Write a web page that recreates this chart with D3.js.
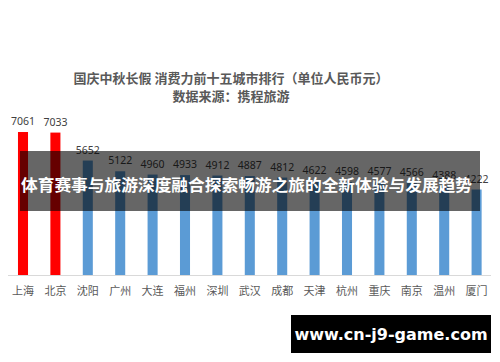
<!DOCTYPE html>
<html><head><meta charset="utf-8">
<script src="https://cdn.jsdelivr.net/npm/d3@7"></script>
<style>html,body{margin:0;padding:0;background:#fff;}svg{display:block;}</style>
</head><body>
<script>
const categories = ["上海","北京","沈阳","广州","大连","福州","深圳","武汉","成都","天津","杭州","重庆","南京","温州","厦门"];
const values = [7061,7033,5652,5122,4960,4933,4912,4887,4812,4622,4598,4577,4566,4388,4222];
const highlighted = ["上海","北京"];
const titleLines = ["国庆中秋长假 消费力前十五城市排行（单位人民币元）","数据来源：携程旅游"];
const overlayText = "体育赛事与旅游深度融合探索畅游之旅的全新体验与发展趋势";
const watermark = "www.cn-j9-game.com";

const W = 500, H = 362;
const svg = d3.select("body").append("svg").attr("width", W).attr("height", H);
svg.append("rect").attr("width", W).attr("height", H).attr("fill", "#fff");

const x = d3.scaleBand().domain(categories).range([6.8, 492.8]).paddingInner(0.69).paddingOuter(0.345);
const y = d3.scaleLinear().domain([0, 8000]).range([275, 113]);

// title
svg.selectAll("text.title").data(titleLines).join("text")
  .attr("class","title")
  .attr("x", 231).attr("y", (d,i)=> 83 + i*18)
  .attr("text-anchor","middle")
  .attr("font-family","'Noto Sans CJK SC', sans-serif")
  .attr("font-size", 13).attr("font-weight", 600)
  .attr("fill","#595959").text(d=>d);

// baseline
svg.append("line").attr("x1", 8).attr("x2", 491).attr("y1", y(0)+0.5).attr("y2", y(0)+0.5)
  .attr("stroke","#d9d9d9").attr("stroke-width",1);

// bars
svg.selectAll("rect.bar").data(categories).join("rect")
  .attr("class","bar")
  .attr("x", d=>x(d)).attr("width", x.bandwidth())
  .attr("y", (d,i)=>y(values[i])).attr("height", (d,i)=>y(0)-y(values[i]))
  .attr("fill", d=> highlighted.includes(d) ? "#ff0000" : "#5b9bd5");

// value labels
svg.selectAll("text.val").data(categories).join("text")
  .attr("class","val")
  .attr("x", d=>x(d)+x.bandwidth()/2).attr("y", (d,i)=>y(values[i]) - 7)
  .attr("text-anchor","middle")
  .attr("font-family","'Noto Sans', sans-serif").attr("font-size", 10.5)
  .attr("fill","#404040").text((d,i)=>values[i]);

// x axis labels
const xAxis = d3.axisBottom(x).tickSize(0).tickPadding(0);
const gx = svg.append("g").attr("transform", `translate(0,${y(0)})`).call(xAxis);
gx.select(".domain").remove();
gx.selectAll("text")
  .attr("y", 20).attr("dy", 0)
  .attr("font-family","'Noto Sans CJK SC', sans-serif").attr("font-size", 11)
  .attr("fill","#595959");

// overlay band
svg.append("rect").attr("x", 20).attr("y", 151).attr("width", 460).attr("height", 60)
  .attr("fill","#000").attr("fill-opacity", 0.6);
svg.append("text").attr("x", 21).attr("y", 191)
  .attr("textLength", 451).attr("lengthAdjust","spacingAndGlyphs")
  .attr("font-family","'Noto Sans CJK SC', sans-serif").attr("font-size", 16).attr("font-weight","bold")
  .attr("fill","#fff").text(overlayText);

// watermark
svg.append("rect").attr("x", 291).attr("y", 315).attr("width", 200).attr("height", 38).attr("fill","#000");
svg.append("text").attr("x", 391).attr("y", 340).attr("text-anchor","middle")
  .attr("font-family","'DejaVu Sans', sans-serif").attr("font-size", 16).attr("font-weight","bold")
  .attr("fill","#fff").text(watermark);
</script>
</body></html>
